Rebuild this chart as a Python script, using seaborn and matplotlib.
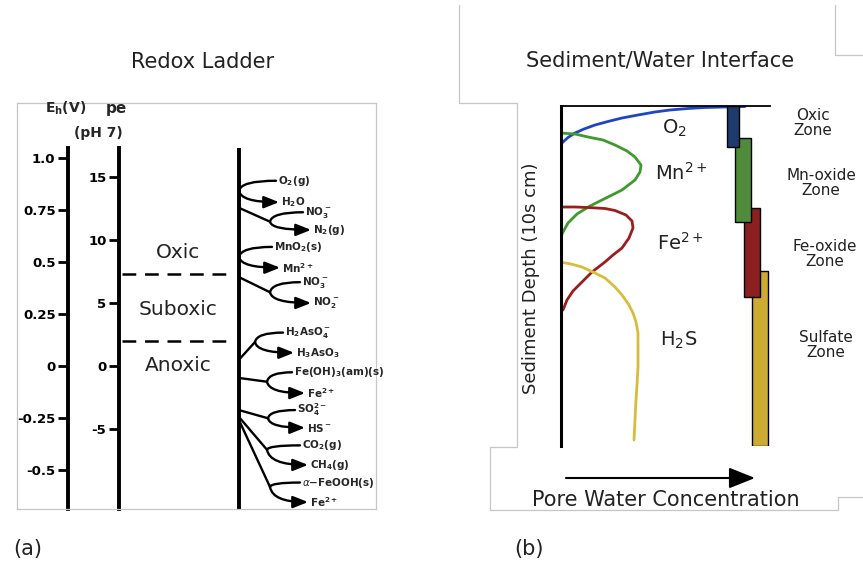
import matplotlib
matplotlib.use("Agg")
import matplotlib.pyplot as plt
from matplotlib.lines import Line2D
import pandas as pd
import seaborn as sns

# ---------------- panel (a): redox ladder ----------------
eh_ticks = [1.0, 0.75, 0.5, 0.25, 0.0, -0.25, -0.5]
eh_labels = ["1.0", "0.75", "0.5", "0.25", "0", "-0.25", "-0.5"]
pe_ticks = [15, 10, 5, 0, -5]
pe_labels = ["15", "10", "5", "0", "-5"]
VOLT_PER_PE = 0.0606          # Eh (V) per pe unit at pH 7

zone_names = ["Oxic", "Suboxic", "Anoxic"]
zone_label_pe = [9.0, 4.45, 0.0]
zone_bounds_pe = [7.3, 2.0]

ox_species = [r"$\mathbf{O_2(g)}$", r"$\mathbf{NO_3^-}$", r"$\mathbf{MnO_2(s)}$",
              r"$\mathbf{NO_3^-}$", r"$\mathbf{H_2AsO_4^-}$", r"$\mathbf{Fe(OH)_3(am)(s)}$",
              r"$\mathbf{SO_4^{2-}}$", r"$\mathbf{CO_2(g)}$", r"$\alpha\mathbf{-FeOOH(s)}$"]
red_species = [r"$\mathbf{H_2O}$", r"$\mathbf{N_2(g)}$", r"$\mathbf{Mn^{2+}}$",
               r"$\mathbf{NO_2^-}$", r"$\mathbf{H_3AsO_3}$", r"$\mathbf{Fe^{2+}}$",
               r"$\mathbf{HS^-}$", r"$\mathbf{CH_4(g)}$", r"$\mathbf{Fe^{2+}}$"]
anchor_pe = [13.9, 12.55, 8.65, 7.05, 0.5, -0.95, -3.5, -4.05, -4.3]
junction_pe = [13.9, 11.45, 8.65, 5.85, 1.9, -1.25, -4.15, -6.65, -9.6]
ox_pe = [14.7, 12.2, 9.45, 6.65, 2.65, -0.5, -3.5, -6.3, -9.25]
red_pe = [13.0, 10.8, 7.8, 5.0, 1.05, -2.15, -4.9, -7.85, -10.8]

# ---------------- panel (b): pore-water profiles ----------------
o2_conc = [18.4, 16.4, 14.4, 12.7, 10.9, 9.4, 7.7, 6.1, 4.7, 3.4, 2.3, 1.4, 0.7, 0.2, -0.1]
o2_depth = [0.05, 0.1, 0.15, 0.25, 0.4, 0.6, 0.9, 1.2, 1.55, 1.9, 2.3, 2.7, 3.15, 3.6, 3.9]
mn_conc = [-0.1, 1.4, 2.7, 4.2, 5.4, 6.6, 7.4, 8.0, 7.9, 7.4, 6.1, 4.5, 2.9, 1.6, 0.7, 0.2, 0.0]
mn_depth = [2.7, 2.8, 3.1, 3.4, 3.9, 4.5, 5.1, 5.9, 6.6, 7.4, 8.4, 9.2, 10.0, 10.8, 11.7, 12.6, 13.0]
fe_conc = [-0.1, 1.4, 2.7, 4.4, 5.4, 6.5, 7.1, 7.2, 6.8, 6.1, 5.2, 4.4, 3.1, 2.1, 1.2, 0.6, 0.2]
fe_depth = [10.1, 10.1, 10.15, 10.25, 10.45, 10.9, 11.5, 12.2, 13.2, 14.2, 14.9, 15.6, 16.6, 17.6,
            18.5, 19.4, 20.4]
h2s_conc = [-0.1, 1.0, 2.1, 3.4, 4.4, 5.4, 6.1, 6.8, 7.2, 7.5, 7.7, 7.7, 7.7, 7.6, 7.5, 7.4, 7.3]
h2s_depth = [15.6, 15.8, 16.1, 16.7, 17.2, 18.1, 18.9, 19.9, 20.7, 21.6, 22.7, 24.4, 26.1, 27.9,
             29.4, 31.4, 33.4]
species = ["O2", "Mn", "Fe", "H2S"]
species_labels = [r"O$_2$", r"Mn$^{2+}$", r"Fe$^{2+}$", r"H$_2$S"]

zone_labels = ["Oxic\nZone", "Mn-oxide\nZone", "Fe-oxide\nZone", "Sulfate\nZone"]
zone_top = [0.0, 3.2, 10.2, 16.5]
zone_bottom = [4.1, 11.6, 19.1, 34.0]

# ---------------- styling ----------------
sns.set_theme(style="white")
plt.rcParams["font.family"] = ["DejaVu Sans"]
plt.rcParams["mathtext.fontset"] = "dejavusans"

line_colors = {"O2": "#1f45c2", "Mn": "#3f9a2e", "Fe": "#9c1d1d", "H2S": "#d8bd3c"}
zone_colors = ["#1e3b6d", "#508b3c", "#8c1f1f", "#ccab33"]
frame_gray = "#c6c6c6"

W, H = 863, 569
fig = plt.figure(figsize=(W / 100, H / 100), dpi=100)
fig.patch.set_facecolor("white")


def fx(px):
    return px / W


def fy(py):
    return 1 - py / H


# ---- ladder axes ----
PE_TOP, PE_BOTTOM, PE_LINE_TOP = 20.87, -11.35, 17.3
LADDER_X = 239
axL = fig.add_axes([fx(17), fy(509), fx(376) - fx(17), fy(103) - fy(509)])
axL.set_xlim(17, 376)
axL.set_ylim(PE_BOTTOM, PE_TOP)
axL.set_xticks([])
axL.set_yticks([])
for sp in axL.spines.values():
    sp.set_visible(True)
    sp.set_color(frame_gray)
    sp.set_linewidth(0.9)

pe_ax = axL.secondary_yaxis((119 - 17) / 359)
eh_ax = axL.secondary_yaxis((68 - 17) / 359,
                            functions=(lambda p: p * VOLT_PER_PE, lambda e: e / VOLT_PER_PE))
pe_ax.set_ticks(pe_ticks, labels=pe_labels, fontweight="bold")
eh_ax.set_ticks(eh_ticks, labels=eh_labels, fontweight="bold")
for sec, k in ((pe_ax, 1.0), (eh_ax, VOLT_PER_PE)):
    sp = sec.spines["left"]
    sp.set_linewidth(2.8)
    sp.set_color("black")
    sp.set_bounds(PE_BOTTOM * k, PE_LINE_TOP * k)
    sec.tick_params(axis="y", left=True, direction="out", length=7.5, width=2,
                    colors="black", labelsize=9.5, pad=1.5)

axL.vlines(LADDER_X, PE_BOTTOM, PE_LINE_TOP, colors="black", lw=2.8)
axL.hlines(zone_bounds_pe, 122, 234, colors="black", lw=1.8, linestyles=(0, (5.5, 3.5)))
for name, pe in zip(zone_names, zone_label_pe):
    axL.text(178, pe, name, ha="center", va="center", fontsize=14.5, color="#222222")

# half-reaction couples: stem from the ladder, fork to oxidant (line) and reductant (arrow)
stem_x = [LADDER_X, 270, LADDER_X, 270, 255, 267, 268, 267, 270]
ox_tail_x = [276, 303, 272, 300, 283, 292, 295, 300, 300]
red_tip_x = [279, 311, 280, 311, 294, 305, 305, 308, 308]
for i in range(len(ox_species)):
    if stem_x[i] != LADDER_X:
        axL.plot([LADDER_X, stem_x[i]], [anchor_pe[i], junction_pe[i]], color="black",
                 lw=1.7, solid_capstyle="round")
    axL.annotate("", xy=(ox_tail_x[i], ox_pe[i]), xytext=(stem_x[i], junction_pe[i]),
                 arrowprops=dict(arrowstyle="-", connectionstyle="angle3,angleA=80,angleB=0",
                                 lw=1.7, color="black", shrinkA=0, shrinkB=0))
    axL.annotate("", xy=(red_tip_x[i], red_pe[i]), xytext=(stem_x[i], junction_pe[i]),
                 arrowprops=dict(arrowstyle="-|>,head_length=0.75,head_width=0.3",
                                 connectionstyle="angle3,angleA=-80,angleB=0",
                                 lw=1.7, color="black", shrinkA=0, shrinkB=0))
    axL.text(ox_tail_x[i] + 1.5, ox_pe[i], ox_species[i], ha="left", va="center", fontsize=7.5)
    axL.text(red_tip_x[i] + 1.5, red_pe[i], red_species[i], ha="left", va="center", fontsize=7.5)

fig.text(fx(66), fy(108), r"$\mathbf{E_h(V)}$", ha="center", va="center", fontsize=10)
fig.text(fx(116), fy(108), "pe", ha="center", va="center", fontsize=11, fontweight="bold")
fig.text(fx(98), fy(133), "(pH 7)", ha="center", va="center", fontsize=10, fontweight="bold")
fig.text(fx(203), fy(62), "Redox Ladder", ha="center", va="center", fontsize=15, color="#222222")
fig.text(fx(28), fy(549), "(a)", ha="center", va="center", fontsize=15, color="#222222")

# ---- sediment profile axes ----
axR = fig.add_axes([fx(561), fy(446), fx(770) - fx(561), fy(106) - fy(446)])
axR.set_xlim(0, 20.9)
axR.set_ylim(34, 0)

profiles = pd.concat([
    pd.DataFrame({"conc": c, "depth": d, "species": s})
    for c, d, s in zip([o2_conc, mn_conc, fe_conc, h2s_conc],
                       [o2_depth, mn_depth, fe_depth, h2s_depth], species)
], ignore_index=True)
sns.lineplot(data=profiles, x="conc", y="depth", hue="species", palette=line_colors,
             sort=False, estimator=None, lw=2.0, legend=False, ax=axR)

bar_left = [16.55, 17.4, 18.3, 19.1]
bar_width = [1.25, 1.6, 1.6, 1.6]
for i in reversed(range(len(zone_top))):
    axR.bar(bar_left[i], zone_bottom[i] - zone_top[i], bottom=zone_top[i], width=bar_width[i],
            align="edge", color=zone_colors[i], edgecolor="black", lw=1.0, zorder=10 - i)

label_pos = [(10.1, 2.2), (9.4, 6.7), (9.6, 13.7), (9.9, 23.4)]
for txt, (cx, dy) in zip(species_labels, label_pos):
    axR.text(cx, dy, txt, ha="left", va="center", fontsize=14, color="#222222")

zone_text_pos = [(25.2, 1.7), (26.0, 7.7), (26.4, 14.8), (26.5, 23.9)]
for txt, (cx, dy) in zip(zone_labels, zone_text_pos):
    axR.text(cx, dy, txt, ha="center", va="center", fontsize=11, linespacing=0.95,
             color="#222222", clip_on=False)

axR.set_xticks([])
axR.set_yticks([])
axR.set_xlabel("")
axR.set_ylabel("Sediment Depth (10s cm)", fontsize=13, color="#222222")
axR.yaxis.set_label_coords(-0.1, 0.494)
for side in ("right", "bottom"):
    axR.spines[side].set_visible(False)
axR.spines["left"].set_linewidth(2.2)
axR.spines["left"].set_color("black")
axR.spines["top"].set_linewidth(1.3)
axR.spines["top"].set_color("black")
axR.spines["left"].set_zorder(12)

axR.annotate("", xy=(19.4, 37.2), xytext=(0.5, 37.2), annotation_clip=False,
             arrowprops=dict(arrowstyle="-|>,head_length=0.8,head_width=0.32", mutation_scale=20,
                             lw=1.5, color="black", shrinkA=0, shrinkB=0))
axR.text(10.5, 39.4, "Pore Water Concentration", ha="center", va="center", fontsize=15,
         color="#222222", clip_on=False)

fig.text(fx(660), fy(61), "Sediment/Water Interface", ha="center", va="center", fontsize=15,
         color="#222222")
fig.text(fx(529), fy(549), "(b)", ha="center", va="center", fontsize=15, color="#222222")

# light frame around panel (b)
frame_a = [(459, 5), (459, 103), (517, 103), (517, 447), (490, 447), (490, 510), (838, 510),
           (838, 497), (863, 497)]
frame_b = [(835, 5), (835, 55), (863, 55)]
for pts in (frame_a, frame_b):
    fig.add_artist(Line2D([fx(p[0]) for p in pts], [fy(p[1]) for p in pts],
                          transform=fig.transFigure, color=frame_gray, lw=0.9))

fig.savefig("out.png", dpi=100, facecolor="white")
